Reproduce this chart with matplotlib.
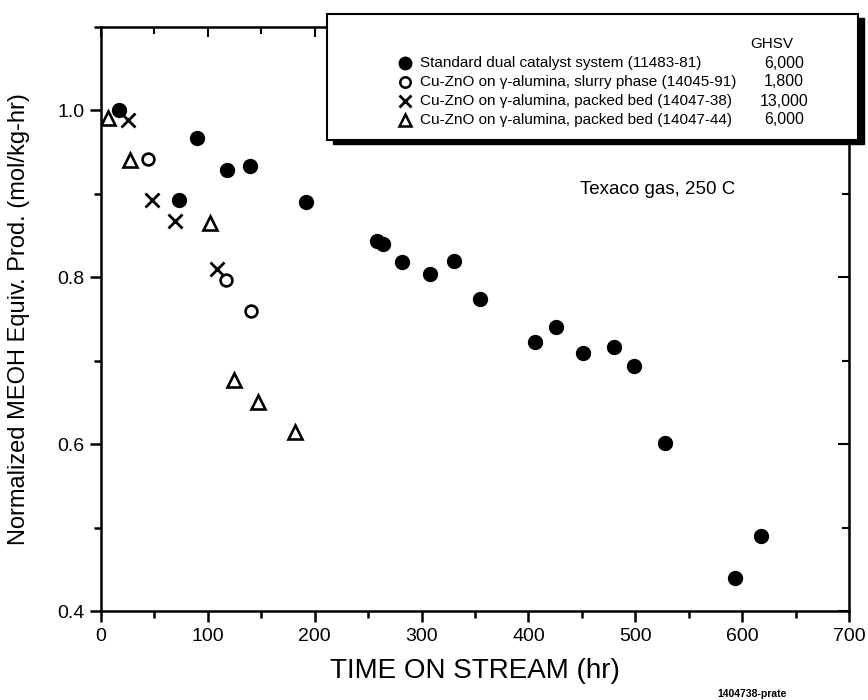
import matplotlib
matplotlib.use("Agg")
import matplotlib.pyplot as plt
from matplotlib.lines import Line2D
from matplotlib.patches import Rectangle
from matplotlib.ticker import MultipleLocator

plt.rcParams['font.family'] = ['Liberation Sans', 'DejaVu Sans']

# Standard dual catalyst system (11483-81), GHSV 6,000
std_t = [17, 73, 90, 118, 139, 192, 258, 264, 282, 308, 330, 355, 406, 426, 451, 480, 499, 528, 593, 618]
std_y = [1.000, 0.893, 0.967, 0.928, 0.933, 0.890, 0.844, 0.840, 0.818, 0.804, 0.819, 0.774,
         0.722, 0.740, 0.709, 0.717, 0.694, 0.601, 0.440, 0.490]

# Cu-ZnO on gamma-alumina, slurry phase (14045-91), GHSV 1,800
slurry_t = [44, 117, 140]
slurry_y = [0.942, 0.797, 0.760]

# Cu-ZnO on gamma-alumina, packed bed (14047-38), GHSV 13,000
pb38_t = [25, 48, 69, 109]
pb38_y = [0.988, 0.893, 0.868, 0.810]

# Cu-ZnO on gamma-alumina, packed bed (14047-44), GHSV 6,000
pb44_t = [7, 27, 102, 124, 147, 182]
pb44_y = [0.991, 0.940, 0.865, 0.677, 0.651, 0.615]

legend_labels = ["Standard dual catalyst system (11483-81)",
                 "Cu-ZnO on \u03b3-alumina, slurry phase (14045-91)",
                 "Cu-ZnO on \u03b3-alumina, packed bed (14047-38)",
                 "Cu-ZnO on \u03b3-alumina, packed bed (14047-44)"]
ghsv = ["6,000", "1,800", "13,000", "6,000"]

W, H = 868, 700
fig = plt.figure(figsize=(W / 100, H / 100), dpi=100)
fx = lambda px: px / W
fy = lambda py: 1 - py / H

ax = fig.add_axes([fx(101), fy(611), fx(849) - fx(101), fy(27) - fy(611)])

ax.plot(std_t, std_y, 'o', color='black', ms=10, ls='none')
ax.plot(slurry_t, slurry_y, 'o', mfc='white', mec='black', mew=1.9, ms=8.5, ls='none')
ax.plot(pb38_t, pb38_y, 'x', color='black', mew=2, ms=10.5, ls='none')
ax.plot(pb44_t, pb44_y, '^', mfc='white', mec='black', mew=1.9, ms=9.5, ls='none')

ax.set_xlim(0, 700)
ax.set_ylim(0.4, 1.1)
ax.xaxis.set_major_locator(MultipleLocator(100))
ax.xaxis.set_minor_locator(MultipleLocator(50))
ax.yaxis.set_major_locator(MultipleLocator(0.2))
ax.yaxis.set_minor_locator(MultipleLocator(0.1))
ax.yaxis.set_major_formatter(matplotlib.ticker.FormatStrFormatter('%.1f'))

for s in ax.spines.values():
    s.set_linewidth(1.8)
ax.tick_params(which='major', direction='out', length=8, width=1.8, labelsize=14, pad=4)
ax.tick_params(which='minor', direction='out', length=5, width=1.8)

top = ax.secondary_xaxis('top')
top.xaxis.set_major_locator(MultipleLocator(100))
top.xaxis.set_minor_locator(MultipleLocator(50))
top.tick_params(which='both', direction='in', labeltop=False, width=1.5)
top.tick_params(which='major', length=7)
top.tick_params(which='minor', length=5)
right = ax.secondary_yaxis('right')
right.yaxis.set_major_locator(MultipleLocator(0.2))
right.yaxis.set_minor_locator(MultipleLocator(0.1))
right.tick_params(which='both', direction='in', labelright=False, width=1.5)
right.tick_params(which='major', length=8)
right.tick_params(which='minor', length=5)

ax.set_xlabel("TIME ON STREAM (hr)", fontsize=20)
ax.xaxis.set_label_coords(0.5, -0.08)
ax.set_ylabel("Normalized MEOH Equiv. Prod. (mol/kg-hr)", fontsize=17)
ax.yaxis.set_label_coords(-0.095, 0.5)

ax.text(448, 0.905, "Texaco gas, 250 C", fontsize=13.5, ha='left', va='center')

# Legend box with shadow
fig.add_artist(Rectangle((fx(333), fy(144)), fx(864) - fx(333), fy(18) - fy(144),
                         transform=fig.transFigure, facecolor='black', edgecolor='black', zorder=5))
fig.add_artist(Rectangle((fx(327), fy(140)), fx(858) - fx(327), fy(14) - fy(140),
                         transform=fig.transFigure, facecolor='white', edgecolor='black', lw=1.5, zorder=6))
fig.text(fx(772), fy(44), "GHSV", fontsize=11, ha='center', va='center', zorder=7)
markers = [dict(marker='o', mfc='black', mec='black', ms=9),
           dict(marker='o', mfc='white', mec='black', mew=1.8, ms=7.5),
           dict(marker='x', color='black', mew=2, ms=9),
           dict(marker='^', mfc='white', mec='black', mew=1.8, ms=8.5)]
rows = [63, 82, 101, 120]
for lab, g, m, r in zip(legend_labels, ghsv, markers, rows):
    fig.add_artist(Line2D([fx(405)], [fy(r)], transform=fig.transFigure, ls='none', zorder=7, **m))
    fig.text(fx(420), fy(r), lab, fontsize=11, ha='left', va='center', zorder=7)
    fig.text(fx(784), fy(r), g, fontsize=11.5, ha='center', va='center', zorder=7)

fig.text(fx(752), fy(694), "1404738-prate", fontsize=7.5, fontweight='bold', ha='center', va='center')

fig.savefig("out.png", dpi=100)
